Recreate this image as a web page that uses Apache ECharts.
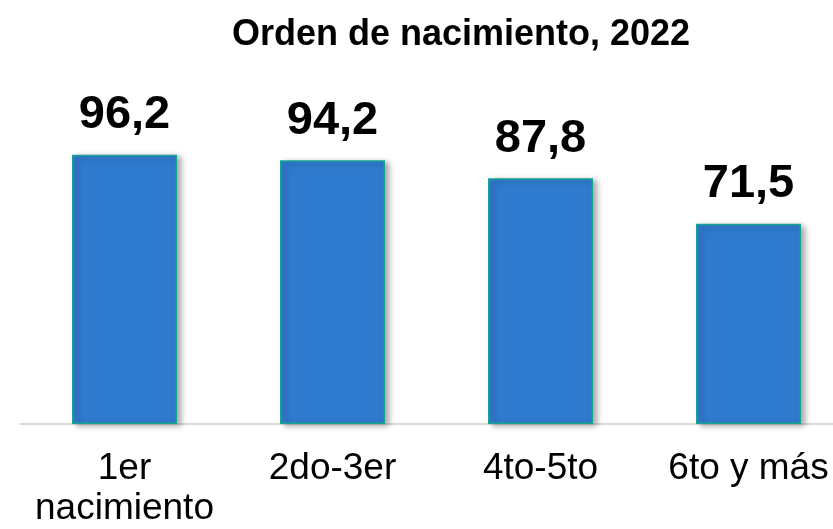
<!DOCTYPE html>
<html><head><meta charset="utf-8">
<script src="https://cdn.jsdelivr.net/npm/echarts@6/dist/echarts.min.js"></script>
<style>html,body{margin:0;padding:0;background:#fff;overflow:hidden}#c{width:853px;height:529px}</style>
</head><body><div id="c"></div>
<script>
const categories = ['1er\nnacimiento', '2do-3er', '4to-5to', '6to y más'];
const values = [96.2, 94.2, 87.8, 71.5];
const titleText = 'Orden de nacimiento, 2022';

const chart = echarts.init(document.getElementById('c'), null, {renderer: 'canvas'});
chart.setOption({
  animation: false,
  title: {
    text: titleText, left: 456, top: 12, textAlign: 'center',
    textStyle: {fontFamily: 'Liberation Sans, Arial', fontWeight: 'bold', fontSize: 36, color: '#000'}
  },
  grid: {left: 20.5, right: 0.5, top: 144, bottom: 104, containLabel: false},
  xAxis: {
    type: 'category', data: categories,
    axisLine: {lineStyle: {color: '#d9d9d9', width: 2}},
    axisTick: {show: false},
    axisLabel: {fontFamily: 'Liberation Sans, Arial', fontSize: 37, color: '#000', margin: 25, lineHeight: 40, interval: 0}
  },
  yAxis: {type: 'value', min: 0, max: 100, show: false, splitLine: {show: false}},
  series: [{
    type: 'bar', data: values, barWidth: 105,
    itemStyle: {
      color: '#2F7BCF', borderColor: '#17A394', borderWidth: 1.5,
      shadowColor: 'rgba(0,0,0,0.35)', shadowBlur: 6, shadowOffsetX: 4, shadowOffsetY: 2
    },
    label: {
      show: true, position: 'top', distance: 16,
      formatter: p => String(p.value).replace('.', ','),
      fontFamily: 'Liberation Sans, Arial', fontWeight: 'bold', fontSize: 47, color: '#000'
    }
  }]
});
</script></body></html>
